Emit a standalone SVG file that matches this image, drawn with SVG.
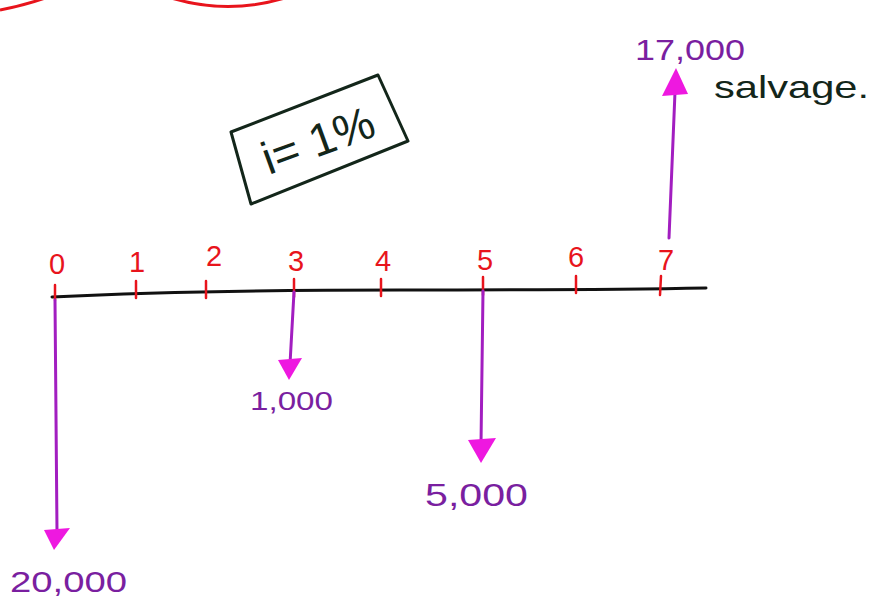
<svg xmlns="http://www.w3.org/2000/svg" width="875" height="603" viewBox="0 0 875 603">
<style>
.axis{stroke:#111;stroke-width:3;fill:none;stroke-linecap:round}
.tick{stroke:#e8141c;stroke-width:2.5;stroke-linecap:round}
.num{fill:#e8141c;font-family:"Liberation Sans",sans-serif;font-size:29px;text-anchor:middle}
.shaft{stroke:#a21ec0;stroke-width:3;fill:none;stroke-linecap:round}
.head{fill:#ee18e0}
.amt{fill:#7a1fa0;font-family:"Liberation Sans",sans-serif}
.ink{fill:#13261a;font-family:"Liberation Sans",sans-serif}
.red{stroke:#e8141c;stroke-width:3;fill:none}
</style>
<rect width="875" height="603" fill="#ffffff"/>
<g id="top-arcs">
<path class="red" d="M0,10 Q26,5 48,-3"/>
<path class="red" d="M168,-3 Q228,16 288,-3"/>
</g>
<g id="rate-box">
<polygon points="231,132 378,75 408,141 251,204" fill="none" stroke="#13261a" stroke-width="3" stroke-linejoin="round"/>
<text class="ink" x="318" y="156" font-size="46" text-anchor="middle" transform="rotate(-20 318 140)">i= 1%</text>
</g>
<g id="timeline">
<path class="axis" d="M52,297 Q200,290 400,290 T706,288"/>
<line class="tick" x1="55" y1="285" x2="55" y2="300"/>
<line class="tick" x1="136" y1="281" x2="136" y2="298"/>
<line class="tick" x1="206" y1="281" x2="206" y2="298"/>
<line class="tick" x1="294" y1="279" x2="294" y2="297"/>
<line class="tick" x1="381" y1="279" x2="381" y2="296"/>
<line class="tick" x1="483" y1="277" x2="483" y2="295"/>
<line class="tick" x1="576" y1="276" x2="576" y2="293"/>
<line class="tick" x1="661" y1="276" x2="660" y2="295"/>
<text class="num" x="57" y="274" font-size="21">0</text>
<text class="num" x="137" y="272">1</text>
<text class="num" x="214" y="266">2</text>
<text class="num" x="296" y="271">3</text>
<text class="num" x="383" y="271">4</text>
<text class="num" x="485" y="270">5</text>
<text class="num" x="576" y="267">6</text>
<text class="num" x="666" y="270">7</text>
</g>
<g id="connectors">
<line class="shaft" x1="55" y1="300" x2="57" y2="532"/>
<line class="shaft" x1="294" y1="292" x2="290" y2="364"/>
<line class="shaft" x1="483" y1="291" x2="481" y2="444"/>
<line class="shaft" x1="669" y1="238" x2="675" y2="92"/>
</g>
<g id="cf0">
<polygon class="head" points="44,530 70,528 54,550"/>
<text class="amt" x="10" y="592" font-size="30" textLength="117" lengthAdjust="spacingAndGlyphs">20,000</text>
</g>
<g id="cf3">
<polygon class="head" points="278,360 302,358 289,380"/>
<text class="amt" x="250" y="410" font-size="25" textLength="83" lengthAdjust="spacingAndGlyphs">1,000</text>
</g>
<g id="cf5">
<polygon class="head" points="468,440 496,438 481,463"/>
<text class="amt" x="425" y="506" font-size="32" textLength="103" lengthAdjust="spacingAndGlyphs">5,000</text>
</g>
<g id="cf7">
<polygon class="head" points="662,96 688,94 676,68"/>
<text class="amt" x="635" y="60" font-size="30" textLength="110" lengthAdjust="spacingAndGlyphs">17,000</text>
<text class="ink" x="714" y="98" font-size="32" textLength="155" lengthAdjust="spacingAndGlyphs">salvage.</text>
</g>
</svg>
